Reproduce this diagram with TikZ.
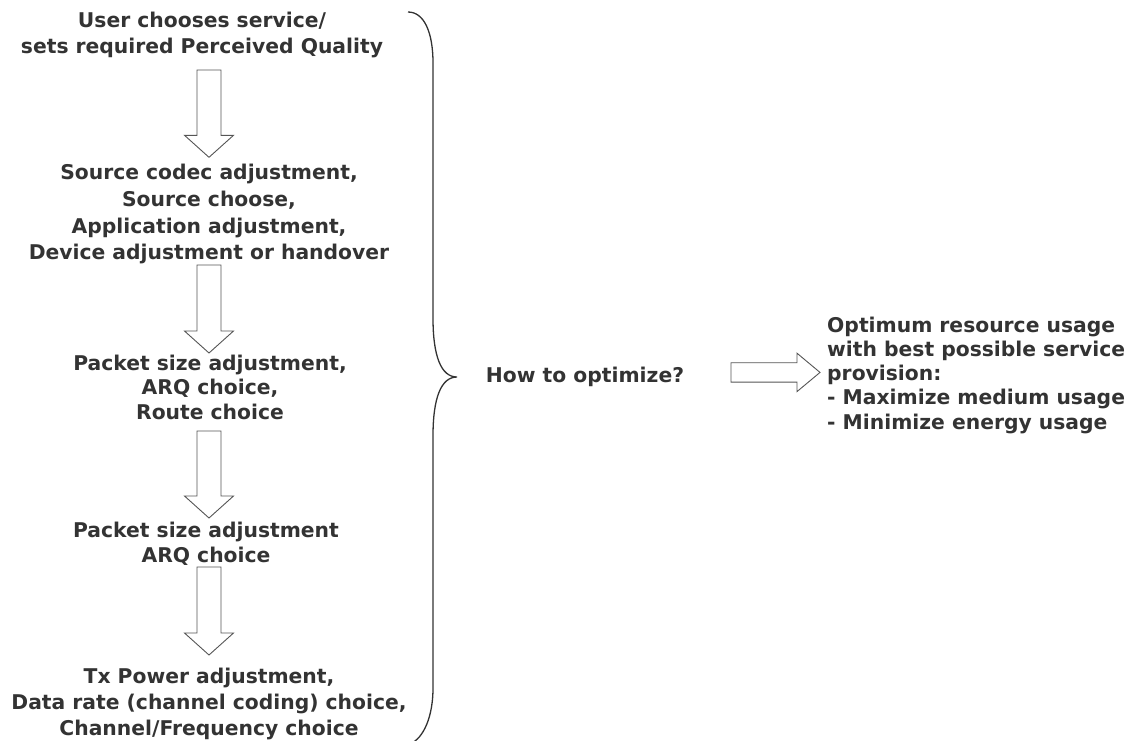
\documentclass[tikz,border=0pt]{standalone}
\usepackage{fontspec}
\setmainfont{DejaVu Sans}
\usetikzlibrary{calc}
\definecolor{ink}{HTML}{333333}
\definecolor{arrowline}{HTML}{555555}
\tikzset{
  labeltext/.style={text=ink, inner sep=0pt, align=center,
    font=\fontsize{20.3}{#1}\selectfont\bfseries},
  labeltext/.default=26,
  blockarrow/.style={draw=arrowline, fill=white, line width=0.9pt, line join=miter},
  bracket/.style={draw=ink, line width=1.3pt}
}
% hollow block arrow pointing down from coordinate #1 to tip #2
\newcommand\blockdown[2]{%
  \path[blockarrow] ($(#1)+(-12,0)$) -- ($(#2)+(-12,-22)$) -- ($(#2)+(-24.5,-22)$)
    -- (#2) -- ($(#2)+(24.5,-22)$) -- ($(#2)+(12,-22)$) -- ($(#1)+(12,0)$) -- cycle;}
% hollow block arrow pointing right from coordinate #1 to tip #2
\newcommand\blockright[2]{%
  \path[blockarrow] ($(#1)+(0,-9.7)$) -- ($(#2)+(-23,-9.7)$) -- ($(#2)+(-23,-19.2)$)
    -- (#2) -- ($(#2)+(-23,19.2)$) -- ($(#2)+(-23,9.7)$) -- ($(#1)+(0,9.7)$) -- cycle;}
\begin{document}
\begin{tikzpicture}[x=1pt,y=-1pt]
\useasboundingbox (0,0) rectangle (1137,740);

% chain of adjustment layers
\node[labeltext] (t1) at (202,35.5)
  {\strut User chooses service/\\sets required Perceived Quality\strut};
\node[labeltext=26.7] (t2) at (209,214.6)
  {\strut Source codec adjustment,\\Source choose,\\Application adjustment,\\Device adjustment or handover\strut};
\node[labeltext=24.5] (t3) at (210,390)
  {\strut Packet size adjustment,\\ARQ choice,\\Route choice\strut};
\node[labeltext=25] (t4) at (206,545)
  {\strut Packet size adjustment\\ARQ choice\strut};
\node[labeltext] (t5) at (209,704)
  {\strut Tx Power adjustment,\\Data rate (channel coding) choice,\\Channel/Frequency choice\strut};

\node[labeltext] (how) at (585,377.2) {\strut How to optimize?\strut};
\node[labeltext=24.2, align=left, anchor=west] (goal) at (827,375.9)
  {\strut Optimum resource usage\\with best possible service\\provision:\\- Maximize medium usage\\- Minimize energy usage\strut};

% arrow end points
\coordinate (a1s) at (209,70);   \coordinate (a1e) at (209,157.3);
\coordinate (a2s) at (209,265);  \coordinate (a2e) at (209,353);
\coordinate (a3s) at (209,431);  \coordinate (a3e) at (209,518);
\coordinate (a4s) at (209,567);  \coordinate (a4e) at (209,655);
\coordinate (rs) at (731,372.4); \coordinate (re) at (820,372.4);

\blockdown{a1s}{a1e}
\blockdown{a2s}{a2e}
\blockdown{a3s}{a3e}
\blockdown{a4s}{a4e}
\blockright{rs}{re}

% curly bracket gathering all layers
\coordinate (btop) at (408,12);
\coordinate (btip) at (457,377);
\coordinate (bbot) at (410,744);
\draw[bracket] (btop) .. controls (424,12) and (433,32) .. (433,63)
  -- (433,318) .. controls (433,356) and (441,377) .. (btip)
  .. controls (441,377) and (433,398) .. (433,436)
  -- (433,688) .. controls (433,716) and (424,738) .. (bbot);
\end{tikzpicture}
\end{document}
